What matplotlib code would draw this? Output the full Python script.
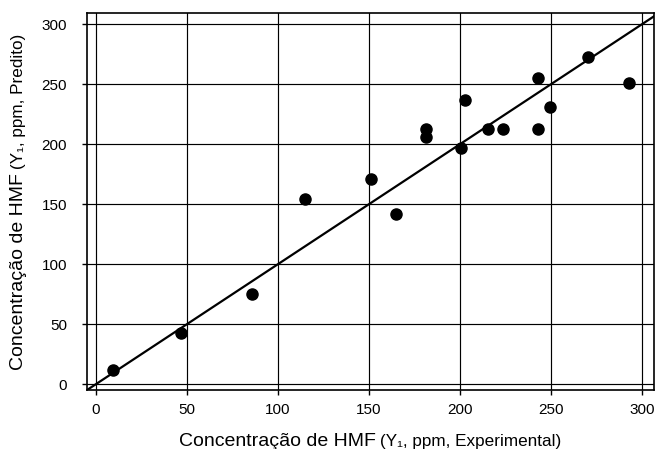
import matplotlib
matplotlib.use('Agg')
import matplotlib.pyplot as plt

plt.rcParams['font.family'] = ['Liberation Sans', 'DejaVu Sans']

# HMF concentration, experimental vs predicted (ppm)
hmf_exp = [9.7, 47.0, 86.0, 114.9, 151.1, 164.8, 181.5, 181.5, 200.3, 202.7,
           215.1, 223.5, 242.9, 242.9, 249.3, 270.4, 292.9]
hmf_pred = [11.7, 42.8, 75.0, 154.4, 171.1, 141.7, 213.0, 206.3, 197.2, 236.9,
            212.8, 212.8, 212.8, 254.7, 231.1, 272.2, 251.3]
ticks = [0, 50, 100, 150, 200, 250, 300]
ideal = [-5, 320]

W, H = 655, 449
fig = plt.figure(figsize=(W / 100, H / 100), dpi=100)
ax = fig.add_axes([86.7 / W, 1 - 390 / H, (654 - 86.7) / W, (390 - 13.3) / H])

ax.grid(True, color='k', lw=0.85, zorder=0)
ax.set_axisbelow(True)
ax.plot(ideal, ideal, color='k', lw=1.6, zorder=2)
ax.plot(hmf_exp, hmf_pred, 'o', color='k', ms=8, zorder=3)

ax.set_xlim(-5, 306.5)
ax.set_ylim(-4.8, 309)
ax.set_xticks(ticks)
ax.set_yticks(ticks)
ax.tick_params(direction='out', length=3.6, width=1, labelsize=11, colors='k')
ax.tick_params(axis='x', pad=5.5)
ax.tick_params(axis='y', pad=10.6)
for s in ax.spines.values():
    s.set_linewidth(1.2)

# axis titles: large main part + smaller parenthetical part
fig.canvas.draw()
r = fig.canvas.get_renderer()
gap = 4
bb = ax.get_window_extent(r)

xa = fig.text(0, 0, 'Concentração de HMF', fontsize=14, ha='left', va='baseline')
xb = fig.text(0, 0, '(Y\u2081, ppm, Experimental)', fontsize=12.3, ha='left', va='baseline')
w1 = xa.get_window_extent(r).width
w2 = xb.get_window_extent(r).width
x0 = (bb.x0 + bb.x1) / 2 - (w1 + gap + w2) / 2
yb = (H - 446) / H
xa.set_position((x0 / W, yb))
xb.set_position(((x0 + w1 + gap) / W, yb))

ya = fig.text(0, 0, 'Concentração de HMF', fontsize=14, rotation=90,
              rotation_mode='anchor', ha='left', va='baseline')
yb2 = fig.text(0, 0, '(Y\u2081, ppm, Predito)', fontsize=12.3, rotation=90,
               rotation_mode='anchor', ha='left', va='baseline')
h1 = ya.get_window_extent(r).height
h2 = yb2.get_window_extent(r).height
y0 = (bb.y0 + bb.y1) / 2 - (h1 + gap + h2) / 2
xbase = 23 / W
ya.set_position((xbase, y0 / H))
yb2.set_position((xbase, (y0 + h1 + gap) / H))

fig.savefig('out.png', dpi=100)
